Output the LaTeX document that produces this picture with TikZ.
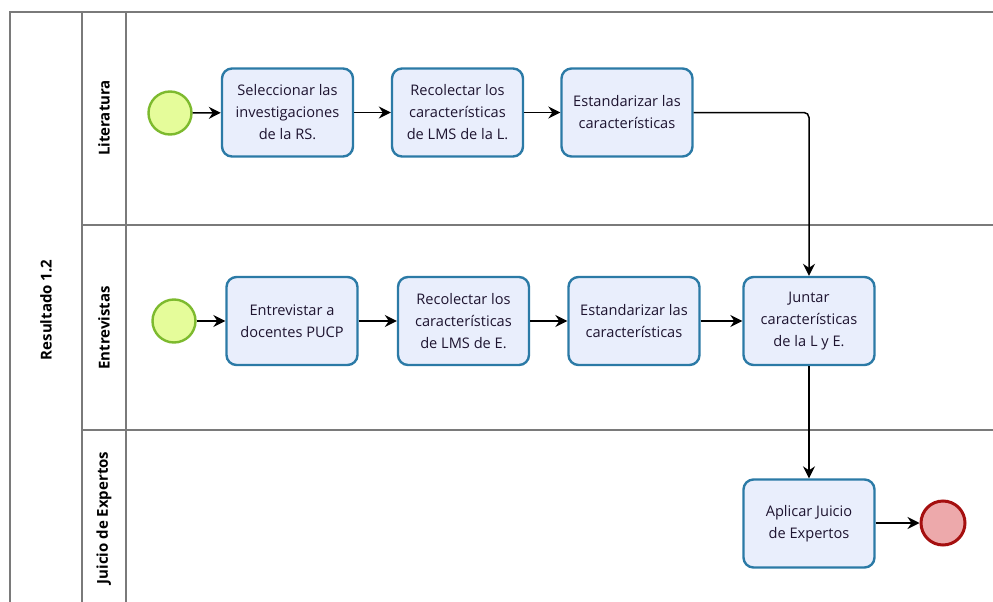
\documentclass[tikz,border=0pt]{standalone}
\usepackage{fontspec}
\setmainfont{Open Sans}
\usetikzlibrary{arrows.meta}
\definecolor{taskfill}{HTML}{E9EEFC}
\definecolor{taskdraw}{HTML}{2B7AA6}
\definecolor{startfill}{HTML}{E5FC9A}
\definecolor{startdraw}{HTML}{7DBA2E}
\definecolor{endfill}{HTML}{EDA9AB}
\definecolor{enddraw}{HTML}{A50F0F}
\definecolor{laneline}{HTML}{7A7A7A}
\definecolor{txt}{HTML}{1E1430}
\tikzset{
  task/.style={draw=taskdraw, fill=taskfill, line width=2.4pt, rounded corners=10pt,
    minimum width=131pt, minimum height=88pt, align=center, text=txt,
    font=\fontsize{14.6}{22}\selectfont, inner sep=2pt},
  startev/.style={circle, draw=startdraw, fill=startfill, line width=2.4pt, minimum size=43pt, inner sep=0pt},
  endev/.style={circle, draw=enddraw, fill=endfill, line width=3pt, minimum size=44pt, inner sep=0pt},
  flow/.style={draw=black, line width=1.5pt, -{Stealth[length=12pt,width=12pt,inset=4pt]}},
  laneedge/.style={draw=laneline, line width=1.4pt},
  lanelabel/.style={rotate=90, font=\fontsize{15}{17}\selectfont\bfseries, text=black}
}
\begin{document}
\begin{tikzpicture}[x=1pt,y=-1pt]
\useasboundingbox (0,0) rectangle (993,602);
% pool and lanes
\draw[laneedge] (10,602) -- (10,12) -- (993,12);
\draw[laneedge] (82,12) -- (82,602);
\draw[laneedge] (126,12) -- (126,602);
\draw[laneedge] (82,225) -- (993,225);
\draw[laneedge] (82,430) -- (993,430);
\node[lanelabel] (pool) at (46,310) {Resultado 1.2};
\node[lanelabel] (l1) at (104,118) {Literatura};
\node[lanelabel] (l2) at (104,328) {Entrevistas};
\node[lanelabel] (l3) at (104,518) {Juicio de Expertos};
% events and tasks
\node[startev] (s1) at (170,113) {};
\node[startev] (s2) at (174,321) {};
\node[task] (t1) at (287.5,112.5) {Seleccionar las\\investigaciones\\de la RS.};
\node[task] (t2) at (457.5,112.5) {Recolectar los\\características\\de LMS de la L.};
\node[task] (t3) at (627,112.5) {Estandarizar las\\características};
\node[task] (t4) at (292,321) {Entrevistar a\\docentes PUCP};
\node[task] (t5) at (463.5,321) {Recolectar los\\características\\de LMS de E.};
\node[task] (t6) at (634,321) {Estandarizar las\\características};
\node[task] (t7) at (809,321) {Juntar\\características\\de la L y E.};
\node[task] (t8) at (809,523.5) {Aplicar Juicio\\de Expertos};
\node[endev] (e1) at (943,523) {};
% flows
\draw[flow] (s1) -- (t1);
\draw[flow] (t1) -- (t2);
\draw[flow] (t2) -- (t3);
\draw[flow, rounded corners=5pt] (t3.east) -| (t7.north);
\draw[flow] (s2) -- (t4);
\draw[flow] (t4) -- (t5);
\draw[flow] (t5) -- (t6);
\draw[flow] (t6) -- (t7);
\draw[flow] (t7) -- (t8);
\draw[flow] (t8.east |- e1) -- (e1);
\end{tikzpicture}
\end{document}
